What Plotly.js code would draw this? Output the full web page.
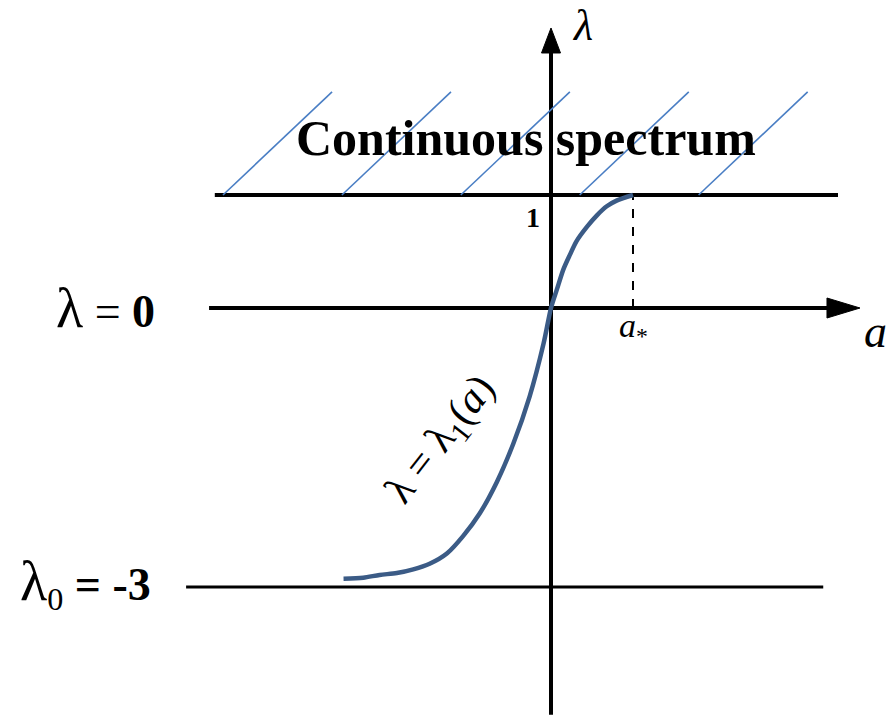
<!DOCTYPE html>
<html>
<head>
<meta charset="utf-8">
<script src="https://cdn.plot.ly/plotly-3.0.1.min.js"></script>
<style>html,body{margin:0;padding:0;background:#fff;}#chart{width:891px;height:717px;}</style>
</head>
<body>
<div id="chart"></div>
<script>
// ---- data (a on the horizontal axis, lambda on the vertical axis) ----
const curveA      = [-2.53, -2.29, -2.09, -1.88, -1.68, -1.48, -1.27, -1.07, -0.87, -0.66, -0.46, -0.26, -0.09, 0, 0.07, 0.15, 0.23, 0.31, 0.44, 0.56, 0.68, 0.80, 1.0];
const curveLambda = [-2.91, -2.90, -2.87, -2.85, -2.81, -2.75, -2.64, -2.45, -2.21, -1.87, -1.46, -0.95, -0.38, 0, 0.16, 0.34, 0.47, 0.59, 0.72, 0.82, 0.90, 0.95, 1.0];
const levelValues = [1, 0, -3];           // lambda = 1 (edge of continuous spectrum), lambda = 0, lambda_0 = -3
const aStar = 1;                          // a_* where lambda_1(a) reaches 1
const lambda0 = -3;

// schematic vertical scale: negative lambda drawn compressed
const NEG_SQUASH = 0.823;
function sy(l) { return l < 0 ? l * NEG_SQUASH : l; }

// ---- layout geometry (diagram units) ----
const xRange = [-6.7195, 4.1463];
const yRange = [-3.6195, 2.7257];

const black = '#000000';
const hatchBlue = '#4a7ec4';
const curveBlue = '#3b5b86';
const serif = 'Liberation Serif, Times New Roman, serif';

const shapes = [];
// horizontal level lines
const levelExtent = {
  '1':  [-4.10, 3.50, 4],
  '0':  [-4.17, 3.42, 4],
  '-3': [-4.45, 3.32, 3]
};
levelValues.forEach(v => {
  const e = levelExtent[String(v)];
  shapes.push({type:'line', xref:'x', yref:'y', layer:'below',
    x0:e[0], x1:e[1], y0:sy(v), y1:sy(v), line:{color:black, width:e[2]}});
});
// vertical lambda axis
shapes.push({type:'line', xref:'x', yref:'y', layer:'below',
  x0:0, x1:0, y0:-3.60, y1:2.33, line:{color:black, width:4}});
// arrowheads
shapes.push({type:'path', xref:'x', yref:'y', xsizemode:'pixel', ysizemode:'pixel',
  xanchor:0, yanchor:2.478, path:'M0,0 L-9.5,-25 L9.5,-25 Z',
  fillcolor:black, line:{color:black, width:1}});
shapes.push({type:'path', xref:'x', yref:'y', xsizemode:'pixel', ysizemode:'pixel',
  xanchor:3.768, yanchor:0, path:'M0,0 L-33,-10 L-33,10 Z',
  fillcolor:black, line:{color:black, width:1}});
// dashed line at a_*
shapes.push({type:'line', xref:'x', yref:'y', layer:'below',
  x0:aStar, x1:aStar, y0:0, y1:sy(1), line:{color:black, width:2, dash:'dash'}});
// hatch lines for the continuous spectrum (lambda > 1)
for (let i = 0; i < 5; i++) {
  const xb = -4.0 + 1.45 * i;
  shapes.push({type:'line', xref:'x', yref:'y', layer:'below',
    x0:xb, x1:xb + 1.33, y0:sy(1), y1:1.912, line:{color:hatchBlue, width:1.6}});
}

const curve = {
  x: curveA,
  y: curveLambda.map(sy),
  type: 'scatter',
  mode: 'lines',
  line: {color: curveBlue, width: 4.5, shape: 'spline', smoothing: 0.8},
  hoverinfo: 'skip'
};

const annotations = [
  {x:-0.305, y:1.504, text:'<b>Continuous spectrum</b>', font:{family:serif, size:50, color:black}},
  {x:0.39, y:yRange[1], yanchor:'top', borderpad:0, text:'<i>λ</i>', font:{family:serif, size:44, color:black}},
  {x:-0.22, y:0.80, text:'<b>1</b>', font:{family:serif, size:28, color:black}},
  {x:-5.43, y:sy(0), text:'<span style="font-size:56px">λ</span> = <b>0</b>', font:{family:serif, size:46, color:black}},
  {x:-5.68, y:sy(lambda0) + 0.03, text:'<span style="font-size:56px">λ</span><sub>0</sub><b> = -3</b>', font:{family:serif, size:46, color:black}},
  {x:1.01, y:-0.177, text:'<i>a</i><sub>*</sub>', font:{family:serif, size:34, color:black}},
  {x:3.96, y:-0.212, text:'<i>a</i>', font:{family:serif, size:46, color:black}},
  {x:-1.33, y:-1.168, text:'λ = λ<sub>1</sub>(<i>a</i>)', textangle:-52, font:{family:serif, size:42, color:black}}
].map(a => Object.assign({xref:'x', yref:'y', showarrow:false, xanchor:'center', yanchor:'middle'}, a));

const layout = {
  width: 891, height: 717, autosize: false,
  margin: {l:0, r:0, t:0, b:0, pad:0},
  paper_bgcolor: '#ffffff', plot_bgcolor: '#ffffff',
  showlegend: false,
  xaxis: {range: xRange, visible: false, fixedrange: true},
  yaxis: {range: yRange, visible: false, fixedrange: true},
  shapes: shapes,
  annotations: annotations
};

Plotly.newPlot('chart', [curve], layout, {staticPlot: true, displayModeBar: false});
</script>
</body>
</html>
